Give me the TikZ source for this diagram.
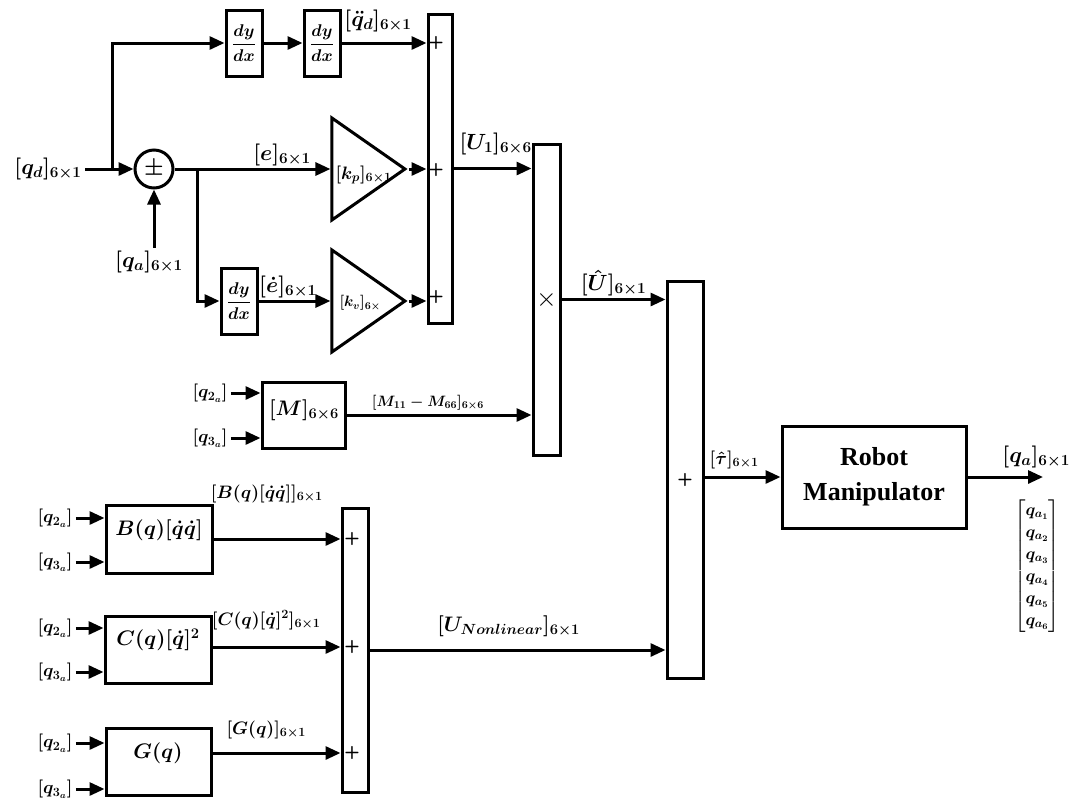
\RequirePackage{fix-cm}
\documentclass[tikz,border=0pt]{standalone}
\usepackage{amsmath,amssymb}
\usepackage{fontspec}
\newfontfamily\robotfont{Liberation Serif}
\usetikzlibrary{arrows.meta,shapes.geometric}

\begin{document}
\begin{tikzpicture}[x=1pt, y=-1pt, line width=3pt,
  blk/.style={draw, rectangle, inner sep=0pt},
  bar/.style={draw, rectangle, inner sep=0pt},
  der/.style={blk, minimum width=36, minimum height=66,
              font=\fontsize{17}{20}\selectfont\boldmath},
  gain/.style={draw, isosceles triangle, isosceles triangle stretches,
               inner sep=0pt, minimum width=102, minimum height=73},
  arr/.style={-{Triangle[length=15pt,width=13pt]}},
  every edge/.style={draw, arr},
  lbl/.style={font=\fontsize{22}{26}\selectfont\boldmath, inner sep=2pt},
  slbl/.style={font=\fontsize{18}{22}\selectfont\boldmath, inner sep=2pt},
  inp/.style={font=\fontsize{18}{22}\selectfont\boldmath, inner sep=2pt},
  btxt/.style={font=\fontsize{21}{25}\selectfont\boldmath, inner sep=0pt},
  sgn/.style={font=\fontsize{18}{18}\selectfont\bfseries\sffamily, inner sep=0pt}
]
  \useasboundingbox (0,0) rectangle (1076,804);

  % PD part
  \node[lbl] (qd) at (48,169) {$[q_d]_{6\times1}$};
  \node[draw, circle, minimum size=38, inner sep=0pt,
        font=\fontsize{22}{22}\selectfont\boldmath] (err) at (154,169) {$\pm$};
  \node[lbl] (qa) at (149,262) {$[q_a]_{6\times1}$};
  \coordinate (j1) at (112,169);
  \coordinate (j2) at (197,169);
  \node[der] (d1) at (244,43) {$\dfrac{dy}{dx}$};
  \node[der] (d2) at (322,43) {$\dfrac{dy}{dx}$};
  \node[der] (d3) at (239,301) {$\dfrac{dy}{dx}$};
  \node[gain] (kp) at (358.5,169) {};
  \node[gain] (kv) at (358.5,301) {};
  \node[anchor=west, font=\fontsize{18}{22}\selectfont\boldmath, inner sep=0pt]
    (kpt) at (334,175) {$[k_p]_{6\times1}$};
  \node[anchor=west, font=\fontsize{15}{18}\selectfont\boldmath, inner sep=0pt]
    (kvt) at (338,303) {$[k_v]_{6\times}$};

  \node[bar, minimum width=24, minimum height=309] (s1) at (440,168.5) {};
  \node[sgn] (s1a) at (436,43) {+};
  \node[sgn] (s1b) at (436,170) {+};
  \node[sgn] (s1c) at (436,297) {+};

  % mass matrix
  \node[bar, minimum width=27, minimum height=311,
        font=\fontsize{26}{26}\selectfont] (mul) at (546.5,299.5) {$\times$};
  \node[blk, minimum width=83, minimum height=66] (M) at (303.5,415) {};
  \node[btxt] (Mt) at (304,410) {$[M]_{6\times6}$};
  \node[inp] (q2m) at (210,393) {$[q_{2_a}]$};
  \node[inp] (q3m) at (210,438) {$[q_{3_a}]$};

  % nonlinear terms
  \node[blk, minimum width=106, minimum height=68] (B) at (159,539) {};
  \node[btxt] (Bt) at (159,530) {$B(q)[\dot{q}\dot{q}]$};
  \node[blk, minimum width=106, minimum height=67] (C) at (158,649.5) {};
  \node[btxt] (Ct) at (158,640) {$C(q)[\dot{q}]^2$};
  \node[blk, minimum width=105, minimum height=67] (G) at (158.5,761.5) {};
  \node[btxt] (Gt) at (158,753) {$G(q)$};
  \node[inp] (q2b) at (55,518) {$[q_{2_a}]$};
  \node[inp] (q3b) at (55,562) {$[q_{3_a}]$};
  \node[inp] (q2c) at (55,628) {$[q_{2_a}]$};
  \node[inp] (q3c) at (55,672) {$[q_{3_a}]$};
  \node[inp] (q2g) at (55,743) {$[q_{2_a}]$};
  \node[inp] (q3g) at (55,789) {$[q_{3_a}]$};

  \node[bar, minimum width=26, minimum height=284] (s3) at (355,650) {};
  \node[sgn] (s3a) at (352,539) {+};
  \node[sgn] (s3b) at (352,647) {+};
  \node[sgn] (s3c) at (352,753) {+};

  % torque sum and plant
  \node[bar, minimum width=36, minimum height=397,
        font=\fontsize{18}{18}\selectfont\bfseries\sffamily] (s2) at (685,479.5) {+};
  \node[blk, minimum width=184, minimum height=102, align=center,
        font=\robotfont\bfseries\fontsize{26}{35}\selectfont] (rm) at (874,477)
        {Robot\\Manipulator};
  \coordinate (qout) at (1043,477);
  \node[font=\fontsize{17}{22}\selectfont\boldmath, inner sep=0pt] (qv) at (1037,566)
    {$\begin{bmatrix} q_{a_1}\\ q_{a_2}\\ q_{a_3}\\ q_{a_4}\\ q_{a_5}\\ q_{a_6}\end{bmatrix}$};

  % connections
  \draw (qd) edge (err);
  \draw (qa.north -| err) edge (err);
  \draw[arr] (j1) |- (d1);
  \draw (d1) edge (d2);
  \draw (d2) edge node[lbl, above, pos=.43, yshift=8] {$[\ddot{q}_d]_{6\times1}$} (d2 -| s1.west);
  \draw (err) edge node[lbl, above, pos=.69] {$[e]_{6\times1}$} (kp);
  \draw[arr] (j2) |- (d3);
  \draw (d3) edge node[lbl, above, pos=.41] {$[\dot{e}]_{6\times1}$} (kv);
  \draw (kp) edge (kp -| s1.west);
  \draw (kv) edge (kv -| s1.west);
  \draw (s1) edge node[lbl, above, pos=.54, yshift=10] {$[U_1]_{6\times6}$} (s1 -| mul.west);
  \draw (mul) edge node[lbl, above, pos=.5] {$[\hat{U}]_{6\times1}$} (mul -| s2.west);
  \draw (M) edge node[font=\fontsize{15}{18}\selectfont\boldmath, above, pos=.44]
    {$[M_{11}-M_{66}]_{6\times6}$} (M -| mul.west);
  \draw (q2m) edge (q2m -| M.west);
  \draw (q3m) edge (q3m -| M.west);

  \draw (q2b) edge (q2b -| B.west);
  \draw (q3b) edge (q3b -| B.west);
  \draw (q2c) edge (q2c -| C.west);
  \draw (q3c) edge (q3c -| C.west);
  \draw (q2g) edge (q2g -| G.west);
  \draw (q3g) edge (q3g -| G.west);
  \draw (B) edge node[slbl, above, pos=.42, yshift=33] {$[B(q)[\dot{q}\dot{q}]]_{6\times1}$} (B -| s3.west);
  \draw (C.east |- s3b) edge node[slbl, above, pos=.42, yshift=14] {$[C(q)[\dot{q}]^2]_{6\times1}$} (s3b -| s3.west);
  \draw (G.east |- s3c) edge node[slbl, above, pos=.42, yshift=11] {$[G(q)]_{6\times1}$} (s3c -| s3.west);
  \draw (s3) edge node[lbl, font=\fontsize{21}{25}\selectfont\boldmath, above, pos=.47, yshift=10]
    {$[U_{Nonlinear}]_{6\times1}$} (s3 -| s2.west);

  \draw (rm -| s2.east) edge node[slbl, above, pos=.39, yshift=5] {$[\hat{\tau}]_{6\times1}$} (rm);
  \draw (rm) edge node[lbl, above, pos=.91, yshift=6] {$[q_a]_{6\times1}$} (qout);
\end{tikzpicture}
\end{document}
